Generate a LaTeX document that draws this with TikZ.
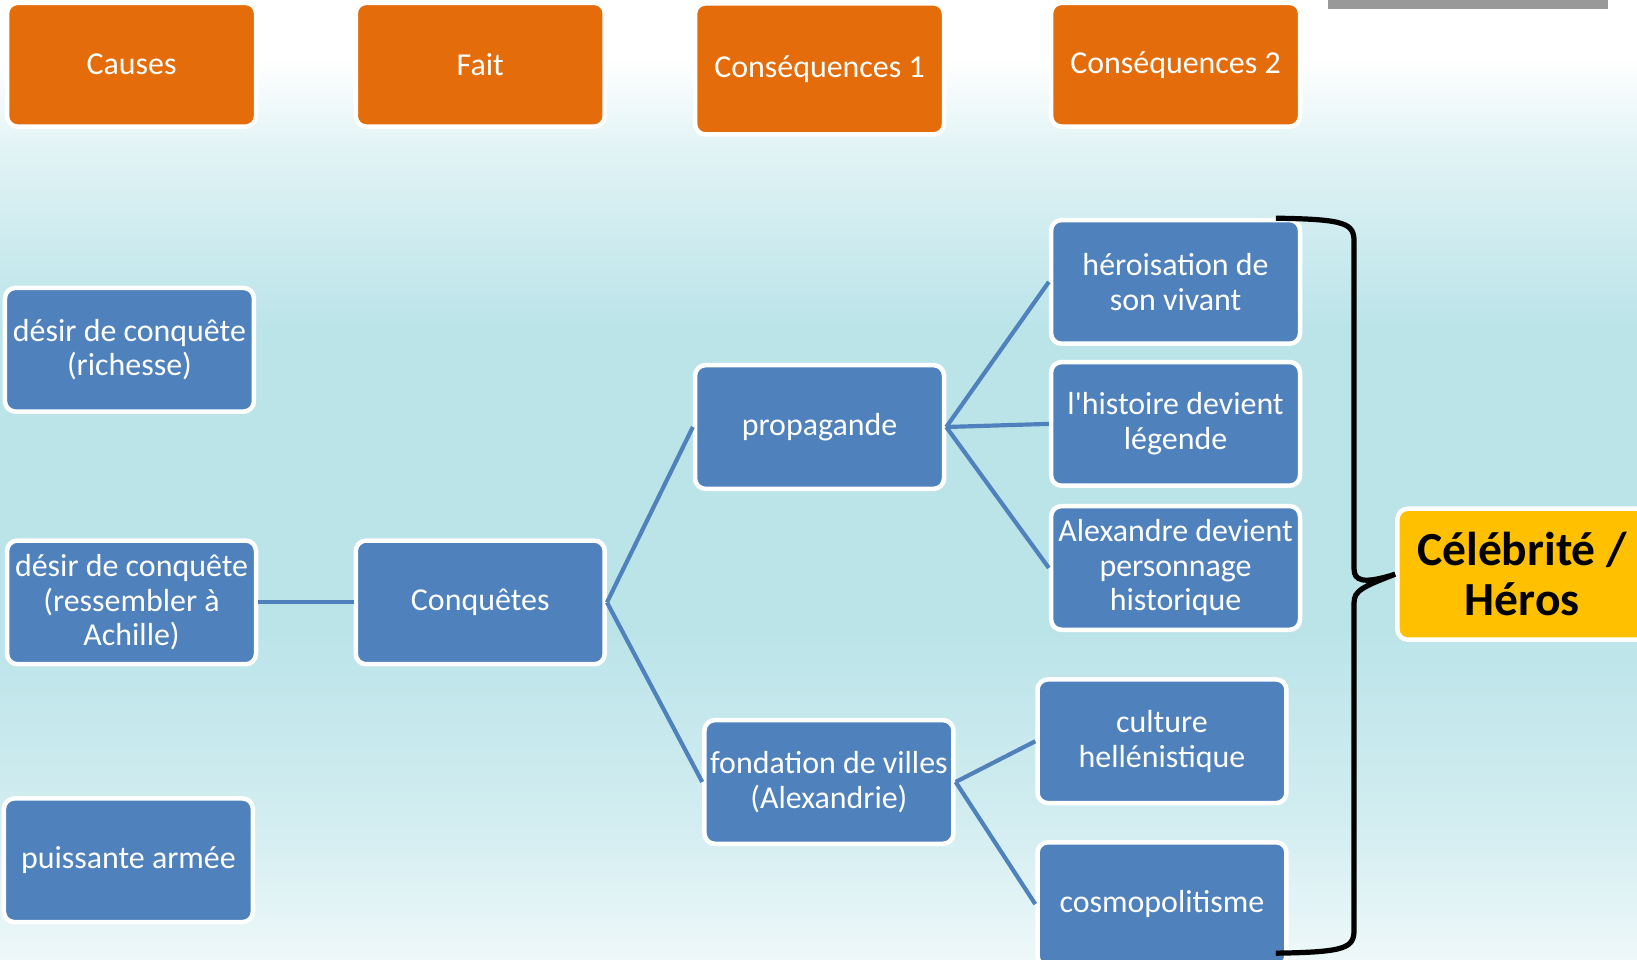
\documentclass[tikz,border=0pt]{standalone}
\usepackage{fontspec}
\setmainfont{Carlito}[Ligatures=TeXOff]
\usepackage{tikz}
\usetikzlibrary{positioning}
\definecolor{orangeppt}{HTML}{E46C0A}
\definecolor{blueppt}{HTML}{4F81BD}
\definecolor{yellowppt}{HTML}{FFC000}
\definecolor{bgmid}{HTML}{BBE4E9}
\definecolor{bgbot}{HTML}{EEF8F9}
\pgfdeclareverticalshading{bgshade}{100bp}{color(0bp)=(bgbot); color(25bp)=(bgbot);
    color(32bp)=(bgmid!65!white); color(42bp)=(bgmid); color(58bp)=(bgmid);
    color(67bp)=(bgmid!45!white); color(72bp)=(white); color(100bp)=(white)}
\tikzset{
    mybox/.style = {rectangle, rounded corners=0.2cm, draw=white, line width=0.086cm,
        minimum width=4.77cm, minimum height=2.37cm, inner sep=1pt, align=center,
        text=white, font=\fontsize{17.4}{18.8}\selectfont},
    myboxo/.style = {mybox, fill=orangeppt},
    myboxb/.style = {mybox, fill=blueppt},
    myboxy/.style = {mybox, fill=yellowppt, text=black, minimum width=4.78cm,
        minimum height=2.51cm, font=\fontsize{25.9}{27.3}\selectfont\bfseries},
    edgeb/.style = {draw=blueppt, line width=0.08cm},
    bracket/.style = {draw=black, line width=0.1cm}
}
\begin{document}
\begin{tikzpicture}[x=0.02cm, y=-0.02cm]
\useasboundingbox (0,0) rectangle (1568,919);
\clip (0,0) rectangle (1568,919);
% background
\shade[shading=bgshade] (0,0) rectangle (1568,919);
\fill[gray!80] (1272,-2) rectangle (1540,9);
%
\node[myboxo] at (126, 62) (causes) {Causes};
\node[myboxo] at (460, 62) (fait) {Fait};
\node[myboxo, minimum height=2.51cm] at (785, 66) (csq1) {Conséquences 1};
\node[myboxo] at (1126, 62) (csq2) {Conséquences 2};
%
\node[myboxb] at (124, 335) (richesse) {désir de conquête\\(richesse)};
\node[myboxb] at (126, 577) (achille) {désir de conquête\\(ressembler à\\Achille)};
\node[myboxb] at (123, 824) (armee) {puissante armée};
\node[myboxb] at (460, 577) (conq) {Conquêtes};
\node[myboxb] at (785, 409) (prop) {propagande};
\node[myboxb] at (794, 749) (fond) {fondation de villes\\(Alexandrie)};
\node[myboxb] at (1126, 270) (hero) {héroisation de\\son vivant};
\node[myboxb] at (1126, 406) (hist) {l'histoire devient\\légende};
\node[myboxb] at (1126, 544) (alex) {Alexandre devient\\personnage\\historique};
\node[myboxb] at (1113, 710) (cult) {culture\\hellénistique};
\node[myboxb] at (1113, 866) (cosmo) {cosmopolitisme};
\node[myboxy] at (1458, 550) (celeb) {Célébrité /\\Héros};
%
\draw[edgeb] (achille.east) edge (conq.west);
\draw[edgeb] (conq.east) edge (prop.west);
\draw[edgeb] (conq.east) edge (fond.west);
\draw[edgeb] (prop.east) edge (hero.west);
\draw[edgeb] (prop.east) edge (hist.west);
\draw[edgeb] (prop.east) edge (alex.west);
\draw[edgeb] (fond.east) edge (cult.west);
\draw[edgeb] (fond.east) edge (cosmo.west);
%
\coordinate (btop) at (1222,209);
\coordinate (bbot) at (1222,913);
\draw[bracket] (btop) .. controls (1290,210) and (1297,214) .. (1297,232)
    -- (1297,545) .. controls (1297,556) and (1305,560) .. (celeb.west)
    .. controls (1305,562) and (1297,566) .. (1297,577)
    -- (1297,890) .. controls (1297,908) and (1290,912) .. (bbot);

\end{tikzpicture}
\end{document}
